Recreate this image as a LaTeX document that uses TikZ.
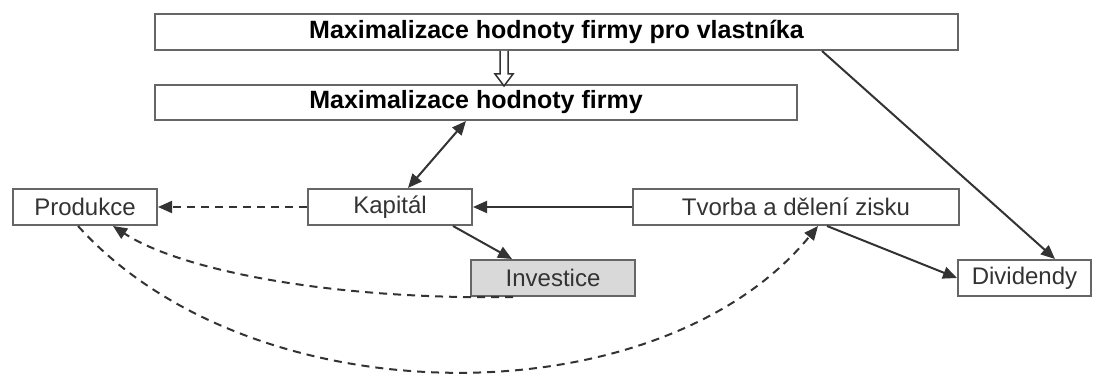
\documentclass[tikz,border=0pt]{standalone}
\usepackage{fontspec}
\setmainfont{Liberation Sans}
\usetikzlibrary{arrows.meta}

\begin{document}
\begin{tikzpicture}[x=1pt,y=-1pt,
    box/.style={draw=black!60,line width=2pt,fill=white,inner sep=0pt,minimum height=36pt,text=black!80,font=\fontsize{24}{28}\selectfont},
    bigbox/.style={box,text=black,font=\fontsize{25}{30}\selectfont\bfseries},
    link/.style={draw=black!80,line width=2pt,-{Triangle[length=14pt,width=12pt]}},
    dlink/.style={link,dash pattern=on 8pt off 6pt}
                ]
            \useasboundingbox (0,0) rectangle (1098,374);

            \node[bigbox,minimum width=803pt,minimum height=36pt] (MaxV) at (556.5,32) {Maximalizace hodnoty firmy pro vlastníka};
            \node[bigbox,minimum width=642pt,minimum height=35pt] (Max) at (476,102.5) {Maximalizace hodnoty firmy};

            \node[box,minimum width=144pt] (Prod) at (85,207) {Produkce};
            \node[box,minimum width=164pt] (Kap) at (390,207) {Kapitál};
            \node[box,minimum width=326pt] (Tvorba) at (796,207) {Tvorba a dělení zisku};

            \node[box,minimum width=164pt,fill=black!15] (Inv) at (553,278) {Investice};
            \node[box,minimum width=133pt] (Div) at (1024.5,278) {Dividendy};

            % hollow arrow down
            \draw[draw=black!80,line width=1.5pt,fill=white] ([xshift=-52.5pt]MaxV.south) ++(-4,0) -- ++(0,23) -- ++(-5,0) -- ++(9,12) -- ++(9,-12) -- ++(-5,0) -- ++(0,-23);

            \draw[link,{Triangle[length=14pt,width=12pt]}-{Triangle[length=14pt,width=12pt]}] ([xshift=18pt]Kap.north) to ([xshift=-10pt]Max.south);
            \draw[dlink] (Kap) to (Prod);
            \draw[link] (Tvorba) to (Kap);
            \draw[link] ([xshift=63pt]Kap.south) to ([xshift=-41pt]Inv.north);
            \draw[link] ([xshift=31pt]Tvorba.south) to (Div.west);
            \draw[link] ([xshift=265.5pt]MaxV.south) to ([xshift=30.5pt]Div.north);

            \draw[dlink] ([xshift=-40pt]Inv.south) .. controls (330,300) and (180,270) .. ([xshift=28pt]Prod.south);
            \draw[dlink] ([xshift=-7pt]Prod.south) .. controls (253,420) and (659,420) .. ([xshift=22pt]Tvorba.south);

            \end{tikzpicture}
\end{document}
